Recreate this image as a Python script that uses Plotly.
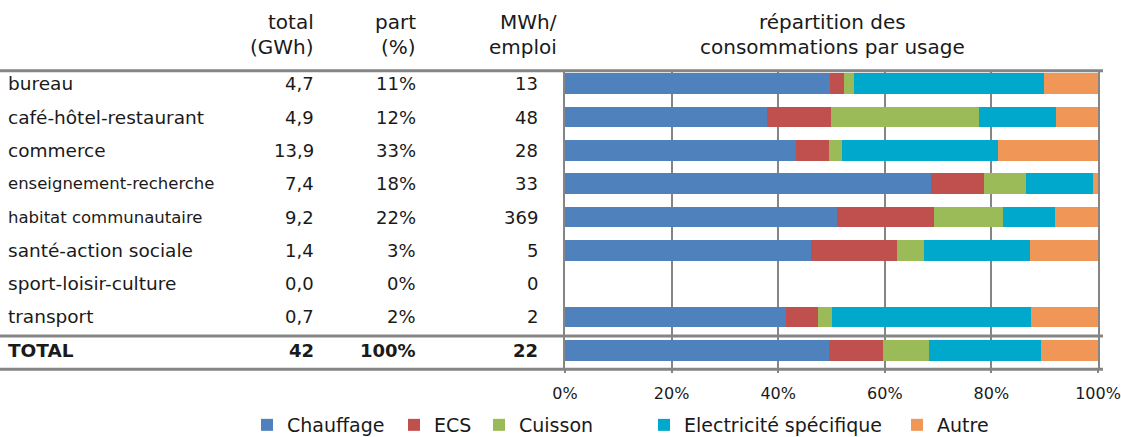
import plotly.graph_objects as go

# Données du tableau
usages = ["bureau", "café-hôtel-restaurant", "commerce", "enseignement-recherche",
          "habitat communautaire", "santé-action sociale", "sport-loisir-culture",
          "transport", "TOTAL"]
total_gwh = [4.7, 4.9, 13.9, 7.4, 9.2, 1.4, 0.0, 0.7, 42]
part_pct = [11, 12, 33, 18, 22, 3, 0, 2, 100]
mwh_emploi = [13, 48, 28, 33, 369, 5, 0, 2, 22]

# Répartition des consommations par usage (%)
chauffage = [49.7, 37.9, 43.4, 68.7, 51.0, 46.1, 0, 41.5, 49.6]
ecs = [2.6, 12.0, 6.1, 10.0, 18.3, 16.1, 0, 5.9, 10.1]
cuisson = [1.9, 27.8, 2.4, 7.7, 12.9, 5.2, 0, 2.7, 8.6]
electricite = [35.7, 14.5, 29.4, 12.6, 9.7, 19.9, 0, 37.4, 21.0]
autre = [10.1, 7.8, 18.7, 1.0, 8.1, 12.7, 0, 12.5, 10.7]

x_ticks = [0, 20, 40, 60, 80, 100]

series = [
    ("Chauffage", chauffage, "#4F81BD"),
    ("ECS", ecs, "#C0504D"),
    ("Cuisson", cuisson, "#9BBB59"),
    ("Electricité spécifique", electricite, "#00A8CC"),
    ("Autre", autre, "#F09656"),
]
# position gauche (px) du carré de légende de chaque série
legend_px = [268, 415, 500, 665, 918]

W, H = 1121, 437
FONT = "Century Gothic, DejaVu Sans, sans-serif"
TXT = "#1a1a1a"
GREY = "#858585"

def px_x(x):
    return x / W

def px_y(y):
    return 1 - y / H

rows = list(range(len(usages)))

fig = go.Figure()
legends = {}
for k, (name, vals, color) in enumerate(series):
    lg = "legend" if k == 0 else f"legend{k + 1}"
    fig.add_trace(go.Bar(
        y=rows, x=vals, name=name, orientation="h", legend=lg, showlegend=True,
        marker=dict(color=color, line=dict(width=0)),
    ))
    legends[lg] = dict(x=px_x(legend_px[k] - 21), xanchor="left",
                       y=px_y(425), yanchor="middle",
                       font=dict(size=19), itemwidth=30,
                       bgcolor="rgba(0,0,0,0)")

# Texte du tableau
annotations = []
for i, u in enumerate(usages):
    bold = u == "TOTAL"
    size = 16.5 if u in ("enseignement-recherche", "habitat communautaire") else 18.5
    def fmt(s):
        return f"<b>{s}</b>" if bold else s
    tot = f"{total_gwh[i]:.0f}" if bold else f"{total_gwh[i]:.1f}".replace(".", ",")
    annotations.append(dict(x=px_x(6), y=i, xref="paper", yref="y", text=fmt(u),
                            xanchor="left", showarrow=False, font=dict(size=size)))
    annotations.append(dict(x=px_x(316), y=i, xref="paper", yref="y", text=fmt(tot),
                            xanchor="right", showarrow=False, font=dict(size=18)))
    annotations.append(dict(x=px_x(418), y=i, xref="paper", yref="y", text=fmt(f"{part_pct[i]}%"),
                            xanchor="right", showarrow=False, font=dict(size=18)))
    annotations.append(dict(x=px_x(540), y=i, xref="paper", yref="y", text=fmt(str(mwh_emploi[i])),
                            xanchor="right", showarrow=False, font=dict(size=18)))

headers = [
    (316, "total", "right"), (316, "(GWh)", "right"),
    (418, "part", "right"), (418, "(%)", "right"),
    (559, "MWh/", "right"), (559, "emploi", "right"),
    (832, "répartition des", "center"), (832, "consommations par usage", "center"),
]
for k, (x, t, anc) in enumerate(headers):
    y = 22 if k % 2 == 0 else 47
    annotations.append(dict(x=px_x(x), y=px_y(y), xref="paper", yref="paper", text=t,
                            xanchor=anc, yanchor="middle", showarrow=False, font=dict(size=20)))

# Filets horizontaux
shapes = []
for y in (70.7, 336, 369.3):
    shapes.append(dict(type="line", xref="paper", yref="paper",
                       x0=0, x1=px_x(1103), y0=px_y(y), y1=px_y(y),
                       line=dict(color=GREY, width=3)))

fig.update_layout(
    width=W, height=H,
    margin=dict(l=0, r=0, t=0, b=0, autoexpand=False),
    paper_bgcolor="white", plot_bgcolor="white",
    font=dict(family=FONT, color=TXT, size=18),
    barmode="stack", bargap=0.38, showlegend=True,
    xaxis=dict(domain=[px_x(565), px_x(1098)], range=[0, 100],
               tickvals=x_ticks, ticktext=[f"{v}%" for v in x_ticks],
               showgrid=True, gridcolor=GREY, gridwidth=2,
               zeroline=False, showline=False, automargin=False,
               ticks="outside", ticklen=3, tickcolor=GREY, tickwidth=2,
               ticklabelstandoff=6, tickfont=dict(size=16)),
    yaxis=dict(domain=[px_y(369.3), px_y(70.7)], range=[8.57, -0.39],
               showticklabels=False, showgrid=False, zeroline=False,
               showline=True, mirror=True, linecolor=GREY, linewidth=2),
    annotations=annotations, shapes=shapes,
    **legends,
)

fig.write_html("out.html", config={"displayModeBar": False},
               post_script="document.body.style.margin='0';document.body.style.overflow='hidden';")
